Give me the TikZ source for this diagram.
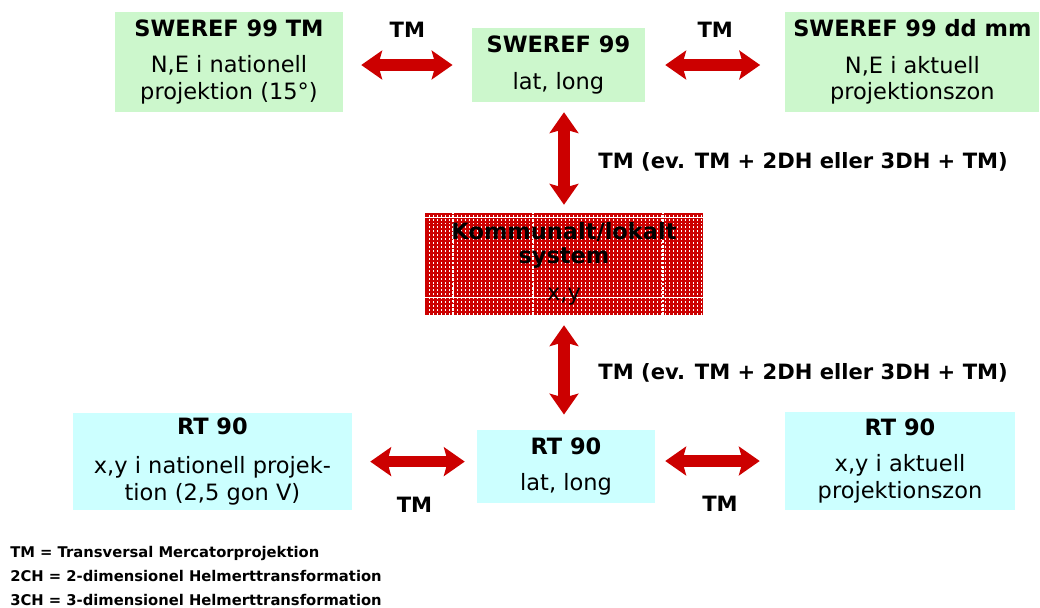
\documentclass[tikz,border=0pt]{standalone}
\usepackage{fontspec}
\setmainfont{DejaVu Sans}
\usetikzlibrary{positioning}
\usetikzlibrary{arrows.meta}
\definecolor{boxgreen}{HTML}{CCF7CC}
\definecolor{boxcyan}{HTML}{CCFFFF}
\definecolor{arrowred}{HTML}{CC0000}
\tikzset{
    boxg/.style = {rectangle, fill=boxgreen, align=center, inner sep=0pt, font=\fontsize{16}{19}\selectfont, text=black},
    boxc/.style = {rectangle, fill=boxcyan, align=center, inner sep=0pt, font=\fontsize{16}{19}\selectfont, text=black},
    boxr/.style = {rectangle, fill=arrowred, align=center, inner sep=0pt, font=\fontsize{16}{17}\selectfont, text=black,
        path picture={
            \foreach \i in {1,...,69}
                \draw[white, line width=0.6pt, dash pattern=on 1.4pt off 1.4pt]
                    ([xshift=\i*0.1cm]path picture bounding box.south west) -- ([xshift=\i*0.1cm]path picture bounding box.north west);
            \foreach \i in {0.7, 2.7, 5.95}
                \draw[white, line width=1.2pt, dash pattern=on 2pt off 1pt]
                    ([xshift=\i cm]path picture bounding box.south west) -- ([xshift=\i cm]path picture bounding box.north west);
            \draw[white, line width=0.8pt] ([yshift=-0.12cm]path picture bounding box.north west) -- ([yshift=-0.12cm]path picture bounding box.north east);
            \draw[white, line width=0.6pt] ([yshift=0.45cm]path picture bounding box.south west) -- ([yshift=0.45cm]path picture bounding box.south east);
        }},
    edger/.style = {{Stealth[length=15pt, width=21pt, inset=3pt, line width=0pt]}-{Stealth[length=15pt, width=21pt, inset=3pt, line width=0pt]}, line width=8pt, color=arrowred},
    lbl/.style = {inner sep=0pt, font=\bfseries\fontsize{15}{18}\selectfont, text=black},
    legend/.style = {inner sep=0pt, align=left, font=\bfseries\fontsize{10.5}{17}\selectfont, text=black}
}

\begin{document}
\begin{tikzpicture}
\useasboundingbox (0,0) rectangle (26,-15.175);

% SWEREF 99
\node[boxg, minimum width=5.70cm, minimum height=2.50cm] at ( 5.725, -1.550) (tm) {\textbf{SWEREF 99 TM}\\[7pt]N,E i nationell\\projektion (15°)};
\node[boxg, minimum width=4.33cm, minimum height=1.85cm] at (13.960, -1.625) (sweref) {\textbf{SWEREF 99}\\[7pt]lat, long};
\node[boxg, minimum width=6.35cm, minimum height=2.50cm] at (22.810, -1.550) (ddmm) {\textbf{SWEREF 99 dd mm}\\[7pt]N,E i aktuell\\projektionszon};

% lokalt system
\node[boxr, minimum width=6.95cm, minimum height=2.55cm] at (14.100, -6.600) (lokal) {\textbf{Kommunalt/lokalt}\\\textbf{system}\\[9pt]x,y};

% RT 90
\node[boxc, minimum width=6.98cm, minimum height=2.43cm] at ( 5.310, -11.540) (rtn) {\textbf{RT 90}\\[9pt]x,y i nationell projek-\\tion (2,5 gon V)};
\node[boxc, minimum width=4.45cm, minimum height=1.83cm] at (14.150, -11.660) (rt) {\textbf{RT 90}\\[7pt]lat, long};
\node[boxc, minimum width=5.75cm, minimum height=2.45cm] at (22.500, -11.525) (rtz) {\textbf{RT 90}\\[7pt]x,y i aktuell\\projektionszon};

\draw[edger, shorten <=0.45cm, shorten >=0.475cm] (tm.east |- sweref.west) -- node[lbl, yshift=0.875cm] {TM} (sweref.west);
\draw[edger, shorten <=0.50cm, shorten >=0.625cm] (sweref.east) -- node[lbl, yshift=0.875cm] {TM} (ddmm.west |- sweref.east);
\draw[edger, shorten <=0.25cm, shorten >=0.20cm] (lokal.north |- sweref.south) -- node[lbl, right=0.72cm, yshift=-0.1cm] {TM (ev. TM + 2DH eller 3DH + TM)} (lokal.north);
\draw[edger, shorten <=0.25cm, shorten >=0.375cm] (lokal.south) -- node[lbl, right=0.72cm] {TM (ev. TM + 2DH eller 3DH + TM)} (lokal.south |- rt.north);
\draw[edger, shorten <=0.45cm, shorten >=0.30cm] (rtn.east) -- node[lbl, yshift=-1.075cm] {TM} (rt.west |- rtn.east);
\draw[edger, shorten <=0.25cm, shorten >=0.625cm] (rt.east |- rtz.west) -- node[lbl, yshift=-1.075cm] {TM} (rtz.west);

% förklaring
\node[legend, anchor=west] at (0.25, -14.40) (leg) {TM = Transversal Mercatorprojektion\\2CH = 2-dimensionel Helmerttransformation\\3CH = 3-dimensionel Helmerttransformation};

\end{tikzpicture}
\end{document}
